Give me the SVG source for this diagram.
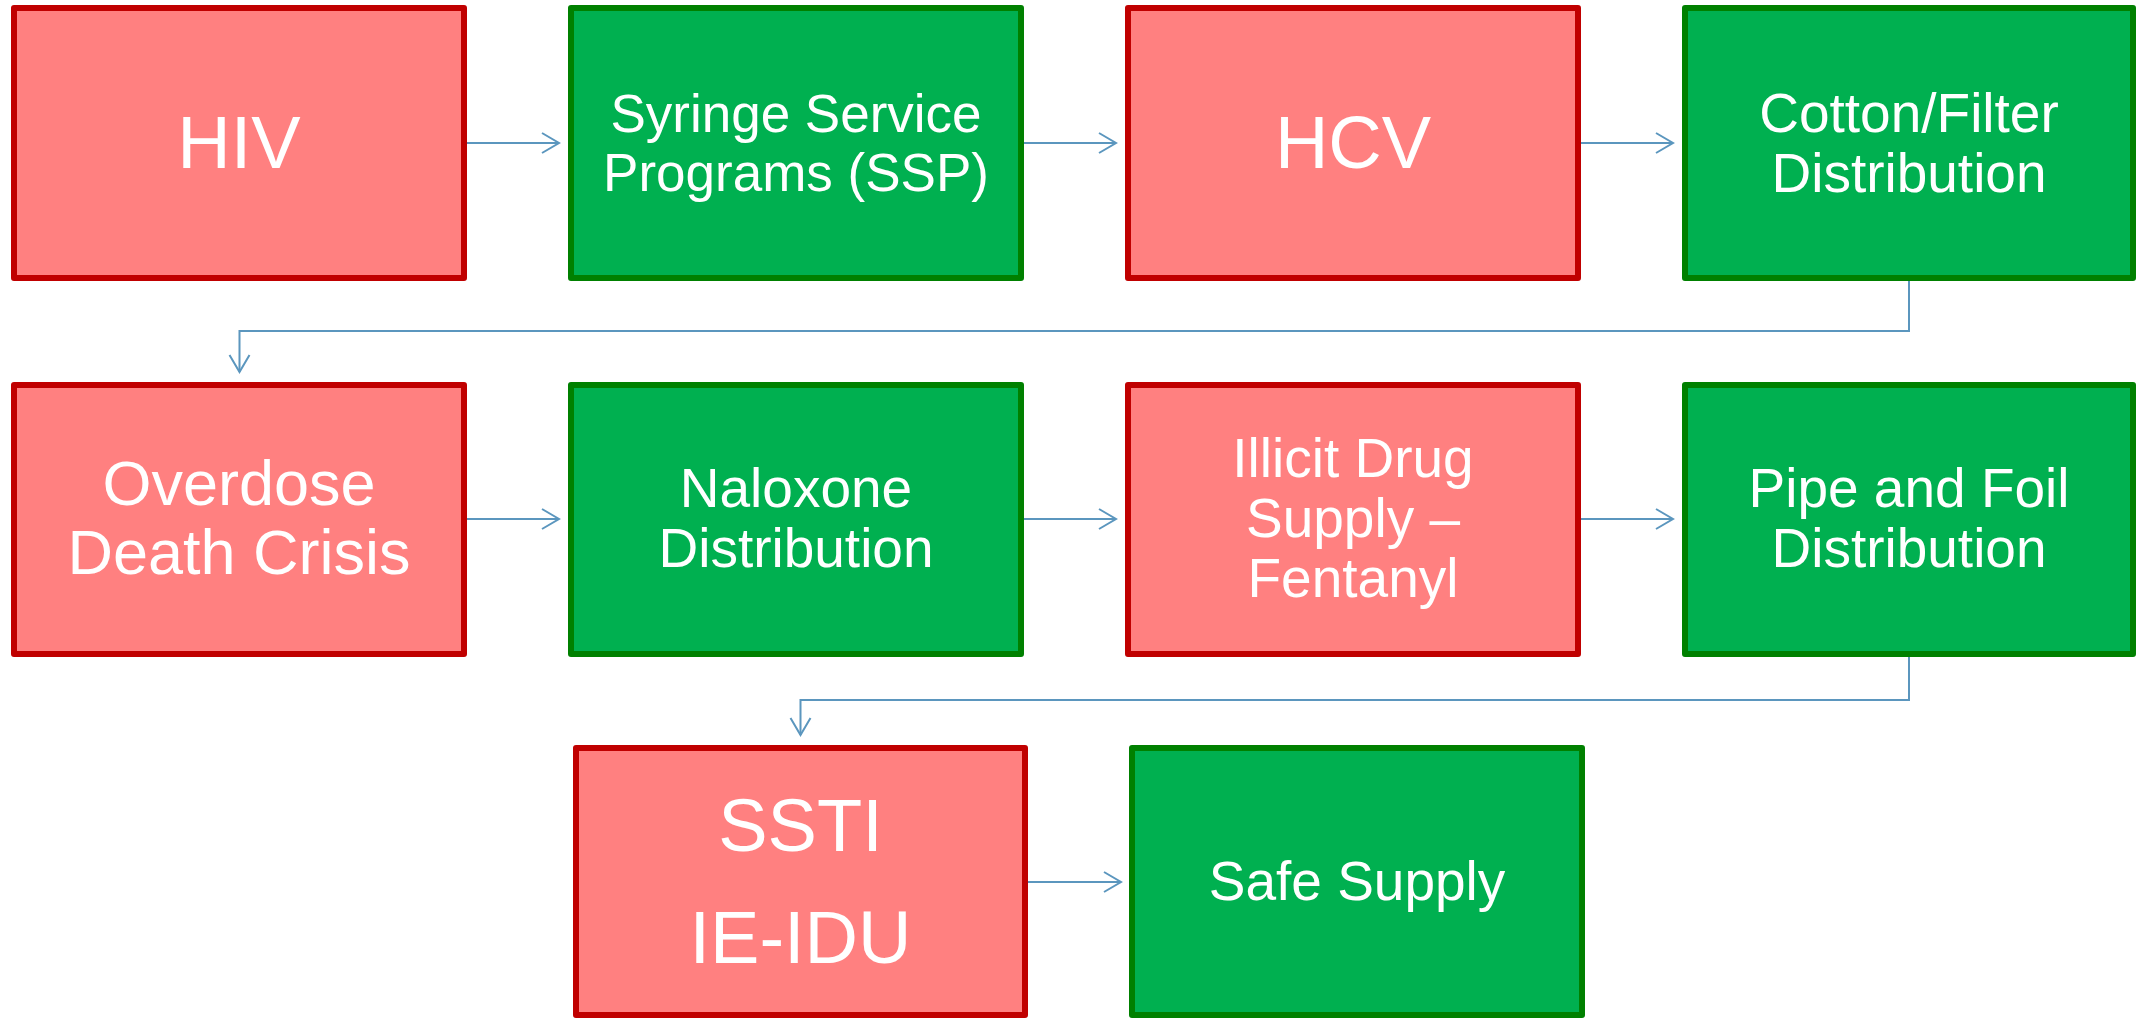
<svg xmlns="http://www.w3.org/2000/svg" width="2136" height="1018" viewBox="0 0 2136 1018">
  <style>
    .risk { fill: #FF8080; stroke: #C00000; stroke-width: 6; stroke-linejoin: round; }
    .resp { fill: #00B050; stroke: #008000; stroke-width: 6; stroke-linejoin: round; }
    .label { fill: #FFFFFF; font-family: "Liberation Sans", Arial, sans-serif; text-anchor: middle; }
    .big { font-size: 74px; }
    .mid { font-size: 63px; }
    .std { font-size: 55px; }
    .sm { font-size: 53px; }
    .link { fill: none; stroke: #5B96BE; stroke-width: 2; }
  </style>
  <defs>
    <marker id="chevron" markerUnits="userSpaceOnUse" markerWidth="24" markerHeight="24" viewBox="-20 -12 22 24" refX="0" refY="0" orient="auto">
      <path d="M-17,-10 L0,0 L-17,10" fill="none" stroke="#5B96BE" stroke-width="2"/>
    </marker>
  </defs>

  <rect width="2136" height="1018" fill="#FFFFFF"/>

  <!-- connectors -->
  <g id="connectors">
    <path class="link" d="M467,143 H559" marker-end="url(#chevron)"/>
    <path class="link" d="M1024,143 H1116" marker-end="url(#chevron)"/>
    <path class="link" d="M1581,143 H1673" marker-end="url(#chevron)"/>
    <path class="link" d="M1909,281 V331 H239.5 V372" marker-end="url(#chevron)"/>
    <path class="link" d="M467,519 H559" marker-end="url(#chevron)"/>
    <path class="link" d="M1024,519 H1116" marker-end="url(#chevron)"/>
    <path class="link" d="M1581,519 H1673" marker-end="url(#chevron)"/>
    <path class="link" d="M1909,657 V700 H800.5 V735" marker-end="url(#chevron)"/>
    <path class="link" d="M1028,882 H1121" marker-end="url(#chevron)"/>
  </g>

  <!-- row 1 -->
  <g id="node-hiv">
    <rect class="risk" x="14" y="8" width="450" height="270"/>
    <text class="label big" x="239" y="168">HIV</text>
  </g>
  <g id="node-ssp">
    <rect class="resp" x="571" y="8" width="450" height="270"/>
    <text class="label sm" x="796" y="131.5">Syringe Service</text>
    <text class="label sm" x="796" y="190.5">Programs (SSP)</text>
  </g>
  <g id="node-hcv">
    <rect class="risk" x="1128" y="8" width="450" height="270"/>
    <text class="label big" x="1353" y="168">HCV</text>
  </g>
  <g id="node-cotton">
    <rect class="resp" x="1685" y="8" width="448" height="270"/>
    <text class="label std" x="1909" y="131.5">Cotton/Filter</text>
    <text class="label std" x="1909" y="191.5">Distribution</text>
  </g>

  <!-- row 2 -->
  <g id="node-overdose">
    <rect class="risk" x="14" y="385" width="450" height="269"/>
    <text class="label mid" x="239" y="505">Overdose</text>
    <text class="label mid" x="239" y="574">Death Crisis</text>
  </g>
  <g id="node-naloxone">
    <rect class="resp" x="571" y="385" width="450" height="269"/>
    <text class="label std" x="796" y="506.5">Naloxone</text>
    <text class="label std" x="796" y="567">Distribution</text>
  </g>
  <g id="node-fentanyl">
    <rect class="risk" x="1128" y="385" width="450" height="269"/>
    <text class="label std" x="1353" y="476.5">Illicit Drug</text>
    <text class="label std" x="1353" y="536.5">Supply –</text>
    <text class="label std" x="1353" y="597">Fentanyl</text>
  </g>
  <g id="node-pipe">
    <rect class="resp" x="1685" y="385" width="448" height="269"/>
    <text class="label std" x="1909" y="506.5">Pipe and Foil</text>
    <text class="label std" x="1909" y="567">Distribution</text>
  </g>

  <!-- row 3 -->
  <g id="node-ssti">
    <rect class="risk" x="576" y="748" width="449" height="267"/>
    <text class="label big" x="800.5" y="851">SSTI</text>
    <text class="label big" x="800.5" y="963">IE-IDU</text>
  </g>
  <g id="node-safe-supply">
    <rect class="resp" x="1132" y="748" width="450" height="267"/>
    <text class="label std" x="1357" y="900">Safe Supply</text>
  </g>
</svg>
